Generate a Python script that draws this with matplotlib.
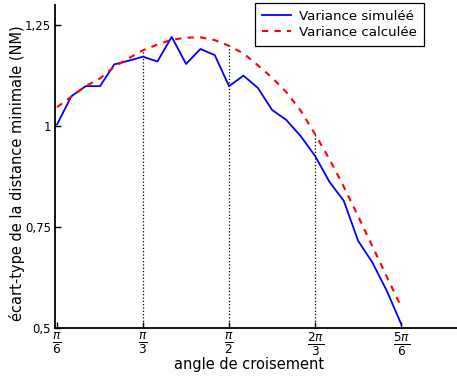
import numpy as np
import matplotlib
matplotlib.use("Agg")
import matplotlib.pyplot as plt

# crossing angle, in degrees (5° steps from 30° to 150°)
angle_deg = [30, 35, 40, 45, 50, 55, 60, 65, 70, 75, 80, 85, 90,
             95, 100, 105, 110, 115, 120, 125, 130, 135, 140, 145, 150]

# simulated standard deviation of the minimum distance (NM)
simulated = [1.004, 1.074, 1.099, 1.099, 1.153, 1.162, 1.172, 1.160, 1.221,
             1.154, 1.191, 1.176, 1.099, 1.125, 1.095, 1.040, 1.015, 0.975,
             0.926, 0.862, 0.815, 0.716, 0.662, 0.592, 0.510]

# computed standard deviation (NM)
computed = [1.047, 1.073, 1.099, 1.118, 1.147, 1.168, 1.188, 1.202, 1.214,
            1.219, 1.220, 1.213, 1.199, 1.180, 1.151, 1.120, 1.084, 1.038,
            0.980, 0.918, 0.850, 0.777, 0.702, 0.627, 0.553]

xtick_vals = [np.pi / 6, np.pi / 3, np.pi / 2, 2 * np.pi / 3, 5 * np.pi / 6]
xtick_labels = [r"$\frac{\pi}{6}$", r"$\frac{\pi}{3}$", r"$\frac{\pi}{2}$",
                r"$\frac{2\pi}{3}$", r"$\frac{5\pi}{6}$"]
ytick_vals = [0.5, 0.75, 1.0, 1.25]
ytick_labels = ["0,5", "0,75", "1", "1,25"]

x = np.deg2rad(angle_deg)

fig = plt.figure(figsize=(4.57, 3.78), dpi=100)
ax = fig.add_axes([55 / 457, 50 / 378, 402 / 457, 323 / 378])

ax.plot(x, simulated, color="blue", lw=1.3, label="Variance simuléé")
ax.plot(x, computed, color="red", lw=1.5, ls=(0, (3, 3)),
        label="Variance calculée")

# dotted guides from the axis up to the computed curve
for xv in xtick_vals[1:4]:
    yv = np.interp(xv, x, computed)
    ax.vlines(xv, 0.5, yv, colors="black", linestyles=":", lw=0.9)

ax.set_xlim(0.5114, 2.958)
ax.set_ylim(0.5, 1.3)
ax.set_xticks(xtick_vals)
ax.set_xticklabels(xtick_labels, fontsize=12.5)
ax.set_yticks(ytick_vals)
ax.set_yticklabels(ytick_labels, fontsize=8.5)
ax.tick_params(direction="in", length=4, width=1, pad=3)
ax.tick_params(axis="x", pad=2)

for side in ("top", "right"):
    ax.spines[side].set_visible(False)
for side in ("left", "bottom"):
    ax.spines[side].set_linewidth(1.3)

ax.set_xlabel("angle de croisement", fontsize=10.5)
ax.set_ylabel("écart-type de la distance minimale (NM)", fontsize=10.5)
ax.xaxis.set_label_coords(0.4826, -0.09)
ax.yaxis.set_label_coords(-0.075, 0.48)

leg = ax.legend(loc="upper right", bbox_to_anchor=(0.918, 1.006),
                borderaxespad=0, fontsize=9.6, handlelength=2.2,
                handletextpad=0.6, borderpad=0.5, labelspacing=0.25,
                fancybox=False, framealpha=1)
leg.get_frame().set_edgecolor("black")
leg.get_frame().set_linewidth(0.9)

fig.savefig("out.png", dpi=100)
